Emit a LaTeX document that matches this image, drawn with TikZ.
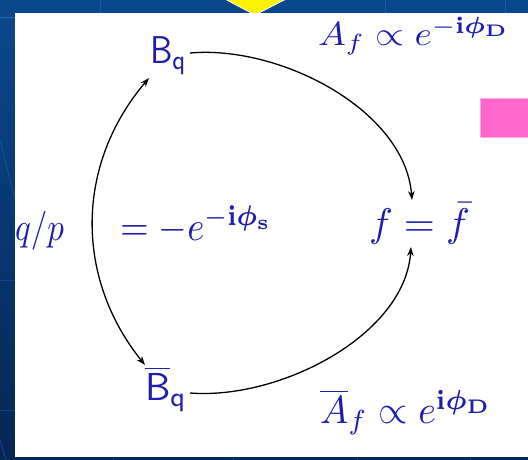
\documentclass[tikz,border=0pt]{standalone}
\usepackage{graphicx}
\usepackage{bm}
\usetikzlibrary{arrows.meta}
\definecolor{bgtop}{RGB}{12,72,140}
\definecolor{bgbot}{RGB}{6,38,84}
\definecolor{bgline}{RGB}{30,105,180}
\definecolor{txtblue}{RGB}{30,30,170}
\definecolor{pinkbox}{RGB}{255,102,204}
\begin{document}
\begin{tikzpicture}[x=1pt,y=-1pt,
  lbl/.style={inner sep=0pt, outer sep=0pt, anchor=north west, text=txtblue},
  conn/.style={line width=1.3pt, black},
  tipx/.tip={Stealth[length=9pt,width=6.5pt]},
  faint/.style={bgline, line width=0.9pt}]
\useasboundingbox (0,0) rectangle (528,460);
% slide background
\shade[top color=bgtop, bottom color=bgbot] (0,0) rectangle (528,460);
\draw[faint] (0,17) -- (15,17);
\draw[faint, bgline!60!bgbot] (0,140) -- (15,200);
\draw[faint, bgline!50!bgbot] (0,280) -- (15,280);
\draw[faint, bgline!50!bgbot] (0,410) -- (15,410);
\draw[faint, bgline!50!bgbot] (0,440) -- (6,460);
\foreach \xx in {100,385,505} \draw[faint, bgline!60!bgtop] (\xx,0) -- (\xx,13);
\foreach \xx in {113,233,357,470} \draw[faint, bgline!50!bgbot] (\xx,457) -- (\xx,460);
\fill[yellow, draw=white, line width=0.8pt] (223,-2) -- (288,-2) -- (255,15) -- cycle;
% white panel
\fill[white] (15,13) rectangle (530,457);
\fill[pinkbox, draw=pinkbox!55!white, line width=0.6pt] (480.5,98) rectangle (531,137);
% texts
\node[lbl] (Bq) at (150,37) {\resizebox*{37pt}{38pt}{$\mathsf{B}_{\mathsf{q}}$}};
\node[lbl] (Af) at (318,17) {\resizebox*{192pt}{38pt}{$A_f \propto e^{-\mathbf{i}\bm{\phi}_{\mathbf{D}}}$}};
\node[lbl] (qp) at (15,211) {\resizebox*{49pt}{39pt}{$q/p$}};
\node[lbl] (phis) at (120,206) {\resizebox*{152pt}{38pt}{$= -e^{-\mathbf{i}\bm{\phi}_{\mathbf{s}}}$}};
\node[lbl] (f) at (369,203) {\resizebox*{101pt}{41pt}{$f = \bar{f}$}};
\node[lbl] (Bb) at (145,366) {\resizebox*{42pt}{46pt}{$\overline{\mathsf{B}}_{\mathsf{q}}$}};
\node[lbl] (Abf) at (320,389) {\resizebox*{172pt}{46pt}{$\overline{A}_f \propto e^{\mathbf{i}\bm{\phi}_{\mathbf{D}}}$}};
% connectors
\draw[conn, -tipx] ([shift={(3pt,3pt)}]Bq.east) .. controls (280,45) and (405,110) .. ([shift={(-7.5pt,3pt)}]f.north);
\draw[conn, -tipx] ([shift={(3pt,-4pt)}]Bb.east) .. controls (280,400) and (405,335) .. ([shift={(-8.5pt,-3pt)}]f.south);
\draw[conn, tipx-tipx] ([shift={(-1pt,-3pt)}]Bq.south west) .. controls (75,165) and (75,278) .. ([shift={(0pt,1pt)}]Bb.north west);
\end{tikzpicture}
\end{document}
